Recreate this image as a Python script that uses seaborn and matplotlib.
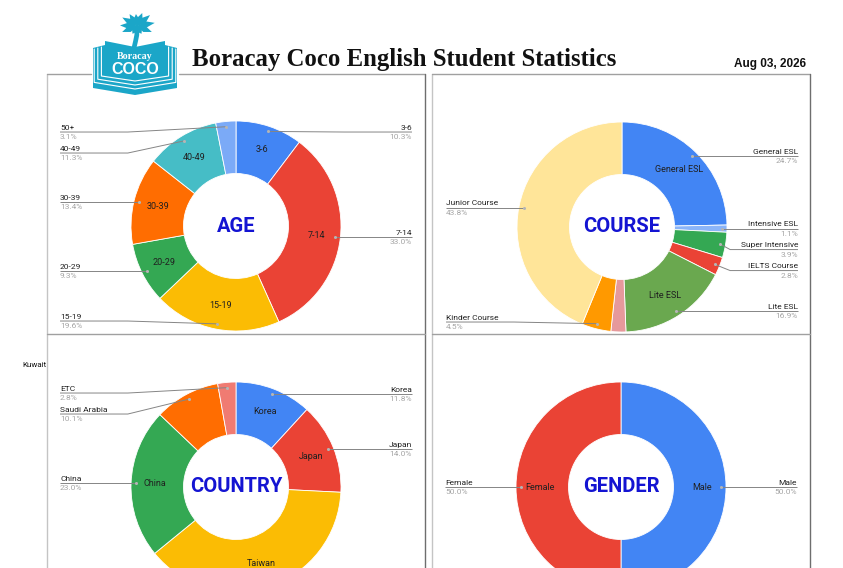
import matplotlib.pyplot as plt
import matplotlib.patches as mpatches
import numpy as np
import seaborn as sns

# ---- data ----
age_labels = ["3-6", "7-14", "15-19", "20-29", "30-39", "40-49", "50+"]
age_values = [10.3, 33.0, 19.6, 9.3, 13.4, 11.3, 3.1]
age_colors = ["#4285F4", "#EA4335", "#FBBC04", "#34A853", "#FF6D01", "#46BDC6", "#7BAAF7"]
age_inside = ["3-6", "7-14", "15-19", "20-29", "30-39", "40-49"]

course_labels = ["General ESL", "Intensive ESL", "Super Intensive", "IELTS Course",
                 "Lite ESL", "Other", "Kinder Course", "Junior Course"]
course_values = [24.7, 1.1, 3.9, 2.8, 16.9, 2.3, 4.5, 43.8]
course_colors = ["#4285F4", "#8AB4F8", "#34A853", "#EA4335", "#6AA84F", "#E6999B",
                 "#FF9900", "#FFE599"]
course_inside = ["General ESL", "Lite ESL"]
course_hidden = ["Other"]

country_labels = ["Korea", "Japan", "Taiwan", "China", "Saudi Arabia", "ETC"]
country_values = [11.8, 14.0, 38.3, 23.0, 10.1, 2.8]
country_colors = ["#4285F4", "#EA4335", "#FBBC04", "#34A853", "#FF6D01", "#F07B72"]
country_inside = ["Korea", "Japan", "China", "Taiwan"]
country_hidden = ["Taiwan"]

gender_labels = ["Male", "Female"]
gender_values = [50.0, 50.0]
gender_colors = ["#4285F4", "#EA4335"]
gender_inside = ["Male", "Female"]

sns.set_theme(style="white")
plt.rcParams["font.family"] = ["Roboto", "DejaVu Sans"]

W, H = 843, 568
R = 105  # donut outer radius in pixels
TEAL = "#1BA6C8"

fig = plt.figure(figsize=(W / 100, H / 100), dpi=100)
bg = fig.add_axes([0, 0, 1, 1])
bg.set_xlim(0, W)
bg.set_ylim(H, 0)
bg.axis("off")


def donut(cx, cy, title, labels, values, colors, inside, hidden=()):
    ax = fig.add_axes([(cx - R) / W, (H - cy - R) / H, 2 * R / W, 2 * R / H])
    ax.pie(values, colors=colors, startangle=90, counterclock=False,
           wedgeprops=dict(width=0.5, edgecolor="white", linewidth=0.6))
    ax.set_xlim(-1, 1)
    ax.set_ylim(-1, 1)

    vals = np.array(values, dtype=float)
    cum = np.concatenate([[0], np.cumsum(vals)[:-1]])
    theta = (cum + vals / 2) / vals.sum() * 2 * np.pi

    for name, th in zip(labels, theta):
        if name in inside:
            ax.text(0.77 * np.sin(th), 0.77 * np.cos(th), name, ha="center",
                    va="center", fontsize=6.5, color="#202020")

    # outside labels, google-sheets style, pushed apart per side
    gap, top, bottom = 0.2, 0.895, -0.905
    for side in (1, -1):
        items = []
        for name, v, th in zip(labels, vals, theta):
            if name in hidden:
                continue
            s = 1 if np.sin(th) >= 0 else -1
            if s != side:
                continue
            items.append([name, v, 0.95 * np.sin(th), 0.95 * np.cos(th)])
        items.sort(key=lambda it: -it[3])
        ys = []
        for i, it in enumerate(items):
            y = min(it[3], top) if i == 0 else min(it[3], ys[-1] - gap)
            ys.append(y)
        for i in range(len(ys) - 1, -1, -1):
            if i == len(ys) - 1:
                ys[i] = max(ys[i], bottom)
            else:
                ys[i] = max(ys[i], ys[i + 1] + gap)
        tx = side * 1.676
        ha = "left" if side < 0 else "right"
        for (name, v, dx, dy), ly in zip(items, ys):
            ax.plot([tx, side * 1.03, dx], [ly, ly, dy], color="#858585", lw=0.7,
                    clip_on=False, solid_capstyle="butt")
            ax.plot(dx, dy, "o", ms=2.2, color="#b5b5b5", mec="none", clip_on=False)
            ax.text(tx, ly + 0.012, name, ha=ha, va="bottom", fontsize=6,
                    color="#222222", clip_on=False)
            ax.text(tx, ly - 0.02, f"{v:.1f}%", ha=ha, va="top", fontsize=6,
                    color="#a6a6a6", clip_on=False)

    ax.text(0, 0, title, ha="center", va="center", fontsize=14.5,
            fontweight="bold", color="#1414d2")
    return ax


donut(236, 226, "AGE", age_labels, age_values, age_colors, age_inside)
donut(622, 227, "COURSE", course_labels, course_values, course_colors,
      course_inside, course_hidden)
donut(236, 487, "COUNTRY", country_labels, country_values, country_colors,
      country_inside, country_hidden)
donut(621, 487, "GENDER", gender_labels, gender_values, gender_colors,
      gender_inside)

# ---- panel borders ----
light, mid, dark = "#c4c4c4", "#a0a0a0", "#6e6e6e"
bg.plot([47, 47], [74, H], color=light, lw=1)
bg.plot([47, 91], [74, 74], color=mid, lw=1)
bg.plot([179, 425], [74, 74], color=mid, lw=1)
bg.plot([425, 425], [74, H], color=dark, lw=1)
bg.plot([47, 425], [334, 334], color=mid, lw=1)
bg.plot([432, 432], [74, H], color=light, lw=1)
bg.plot([432, 810], [74, 74], color=mid, lw=1)
bg.plot([810, 810], [74, H], color=dark, lw=1)
bg.plot([432, 810], [334, 334], color=mid, lw=1)

# ---- logo ----
backing = mpatches.Polygon([(93, 48), (105, 45), (135, 50), (165, 45), (177, 48),
                            (177, 88), (135, 95), (93, 88)],
                           closed=True, color=TEAL, lw=0)
bg.add_patch(backing)
for k in range(3):
    off = 3.6 * (k + 1)
    bg.plot([105 - off, 105 - off, 135, 165 + off, 165 + off],
            [47 + k, 76 + 3.2 * k, 81 + 4 * k, 76 + 3.2 * k, 47 + k],
            color="white", lw=0.8)
cover = mpatches.Polygon([(105, 41), (135, 47), (165, 41), (165, 75), (135, 80), (105, 75)],
                         closed=True, color=TEAL, lw=0)
bg.add_patch(cover)
bg.plot([137, 136.8, 135.6, 134], [27, 35, 41, 48], color=TEAL, lw=3.4,
        solid_capstyle="round")
crown = np.array([137.0, 26.0])
for ang, length in [(-178, 17), (-150, 17), (-122, 14), (-95, 12), (-68, 14),
                    (-40, 17), (-10, 18), (22, 16), (158, 16), (60, 9), (120, 9)]:
    a = np.deg2rad(ang)
    d = np.array([np.cos(a), np.sin(a)])
    p = np.array([-d[1], d[0]])
    tip = crown + length * d
    midp = crown + 0.5 * length * d
    leaf = mpatches.Polygon([crown, midp + 3.2 * p, tip, midp - 3.2 * p],
                            closed=True, color=TEAL, lw=0)
    bg.add_patch(leaf)
bg.text(135, 56.5, "Boracay", ha="center", va="center", fontsize=7.2,
        fontweight="bold", color="white", family="Liberation Serif")
bg.text(135, 69.5, "COCO", ha="center", va="center", fontsize=11.5,
        fontweight="bold", color="white", family="Liberation Sans")

# ---- header text ----
bg.text(192, 66, "Boracay Coco English Student Statistics", ha="left",
        va="baseline", fontsize=17.8, fontweight="bold", color="#111111",
        family="Liberation Serif")
bg.text(806, 67, "Aug 03, 2026", ha="right", va="baseline", fontsize=8.5,
        fontweight="bold", color="#111111", family="Liberation Sans")
bg.text(46.5, 365, "Kuwait", ha="right", va="center", fontsize=5.8,
        color="#111111")

fig.savefig("out.png", dpi=100)
